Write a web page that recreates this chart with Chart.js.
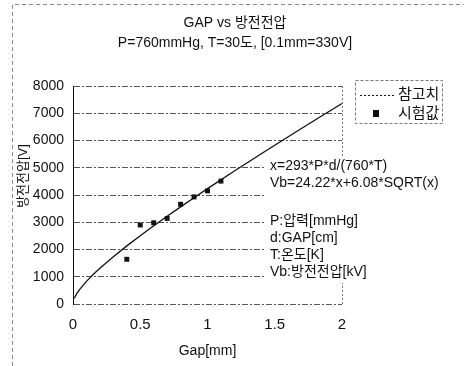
<!DOCTYPE html>
<html>
<head>
<meta charset="utf-8">
<script src="https://cdn.jsdelivr.net/npm/chart.js@4"></script>
<style>
html, body { margin: 0; padding: 0; background: #fff; }
</style>
</head>
<body>
<canvas id="gapChart" width="464" height="366"></canvas>
<script>
// reference curve
const gapRef = [0.01, 0.03, 0.05, 0.1, 0.15, 0.2, 0.3, 0.4, 0.5, 0.6, 0.7, 0.8, 0.9, 1.0, 1.2, 1.4, 1.6, 1.8, 2.0];
const vbRef = [212, 398, 540, 832, 1084, 1314, 1738, 2133, 2508, 2870, 3221, 3565, 3902, 4233, 4882, 5516, 6139, 6752, 7358];
// measured points
const gapTest = [0.4, 0.5, 0.6, 0.7, 0.8, 0.9, 1.0, 1.1];
const vbTest = [1640, 2900, 2980, 3140, 3660, 3930, 4150, 4510];

const xTicks = [0, 0.5, 1, 1.5, 2];
const yTicks = [0, 1000, 2000, 3000, 4000, 5000, 6000, 7000, 8000];

const titleLines = ['GAP vs 방전전압', 'P=760mmHg, T=30도, [0.1mm=330V]'];
const yTitle = '방전전압[V]';
const xTitle = 'Gap[mm]';
const formulaLines = ['x=293*P*d/(760*T)', 'Vb=24.22*x+6.08*SQRT(x)'];
const noteLines = ['P:압력[mmHg]', 'd:GAP[cm]', 'T:온도[K]', 'Vb:방전전압[kV]'];

const FONT = "'Liberation Sans', 'Noto Sans CJK KR', sans-serif";

const decor = {
    id: 'decor',
    beforeDraw(chart) {
        const c = chart.ctx;
        c.save();
        c.fillStyle = '#fff';
        c.fillRect(0, 0, chart.width, chart.height);
        // outer dashed frame
        c.strokeStyle = '#888';
        c.lineWidth = 1;
        c.setLineDash([4, 3]);
        c.beginPath();
        c.moveTo(12.5, chart.height);
        c.lineTo(12.5, 4.5);
        c.lineTo(chart.width, 4.5);
        c.stroke();
        c.restore();
    },
    afterDraw(chart) {
        const c = chart.ctx;
        c.save();
        c.fillStyle = '#111';
        c.textBaseline = 'middle';
        c.textAlign = 'center';

        // chart title
        c.font = '14px ' + FONT;
        titleLines.forEach((t, i) => c.fillText(t, 235, 23 + i * 20));

        // y axis title
        c.font = '13px ' + FONT;
        c.save();
        c.translate(23, 176);
        c.rotate(-Math.PI / 2);
        c.fillText(yTitle, 0, 0);
        c.restore();

        // formula / notes box
        c.fillStyle = '#fff';
        c.fillRect(265, 157, 176, 126);
        c.fillStyle = '#111';
        c.textAlign = 'left';
        c.font = '14px ' + FONT;
        formulaLines.forEach((t, i) => c.fillText(t, 270, 166 + i * 17));
        noteLines.forEach((t, i) => c.fillText(t, 270, 221 + i * 17));

        // legend
        const ds = chart.data.datasets;
        c.fillStyle = '#fff';
        c.fillRect(355, 80, 87, 43);
        c.strokeStyle = '#777';
        c.setLineDash([3, 2]);
        c.strokeRect(355.5, 80.5, 87, 43);
        c.strokeStyle = '#111';
        c.setLineDash([2, 2]);
        c.beginPath();
        c.moveTo(360, 95.5);
        c.lineTo(394, 95.5);
        c.stroke();
        c.setLineDash([]);
        c.fillStyle = '#111';
        c.fillRect(373, 110, 6, 7);
        c.font = '15px ' + FONT;
        c.fillText(ds[0].label, 398, 95);
        c.fillText(ds[1].label, 398, 114);
        c.restore();
    }
};

const ctx = document.getElementById('gapChart').getContext('2d');
const gapChart = new Chart(ctx, {
    type: 'scatter',
    data: {
        datasets: [{
            label: '참고치',
            data: gapRef.map((g, i) => ({ x: g, y: vbRef[i] })),
            showLine: true,
            borderColor: '#111',
            borderWidth: 1.3,
            pointRadius: 0,
            tension: 0
        }, {
            label: '시험값',
            data: gapTest.map((g, i) => ({ x: g, y: vbTest[i] })),
            showLine: false,
            pointStyle: 'rect',
            pointRadius: 3.5,
            backgroundColor: '#111',
            borderColor: '#111',
            borderWidth: 0
        }]
    },
    options: {
        responsive: false,
        animation: false,
        devicePixelRatio: 1,
        layout: { padding: { left: 12, right: 122, top: 86, bottom: 0 } },
        plugins: {
            legend: { display: false },
            tooltip: { enabled: false },
            title: { display: false }
        },
        scales: {
            x: {
                type: 'linear',
                min: 0,
                max: 2,
                afterBuildTicks: s => { s.ticks = xTicks.map(v => ({ value: v })); },
                afterFit: s => { s.height = 62; },
                ticks: {
                    color: '#111', padding: 12, font: { family: FONT, size: 15 },
                    callback: v => String(v)
                },
                grid: {
                    drawTicks: false,
                    color: c => (c.tick && c.tick.value === 2) ? '#777' : 'rgba(0,0,0,0)'
                },
                border: { display: false, dash: [2, 2] },
                title: {
                    display: true,
                    text: xTitle,
                    color: '#111',
                    font: { family: FONT, size: 14 },
                    padding: { top: 0, bottom: 6 }
                }
            },
            y: {
                min: 0,
                max: 8000,
                afterBuildTicks: s => { s.ticks = yTicks.map(v => ({ value: v })); },
                afterFit: s => { s.width = 61; },
                ticks: {
                    color: '#111', padding: 9, font: { family: FONT, size: 14 },
                    callback: v => String(v)
                },
                grid: { drawTicks: false, color: '#555', lineWidth: 1 },
                border: { display: true, color: '#111', width: 1, dash: [6, 2, 2, 2] }
            }
        }
    },
    plugins: [decor]
});
</script>
</body>
</html>
